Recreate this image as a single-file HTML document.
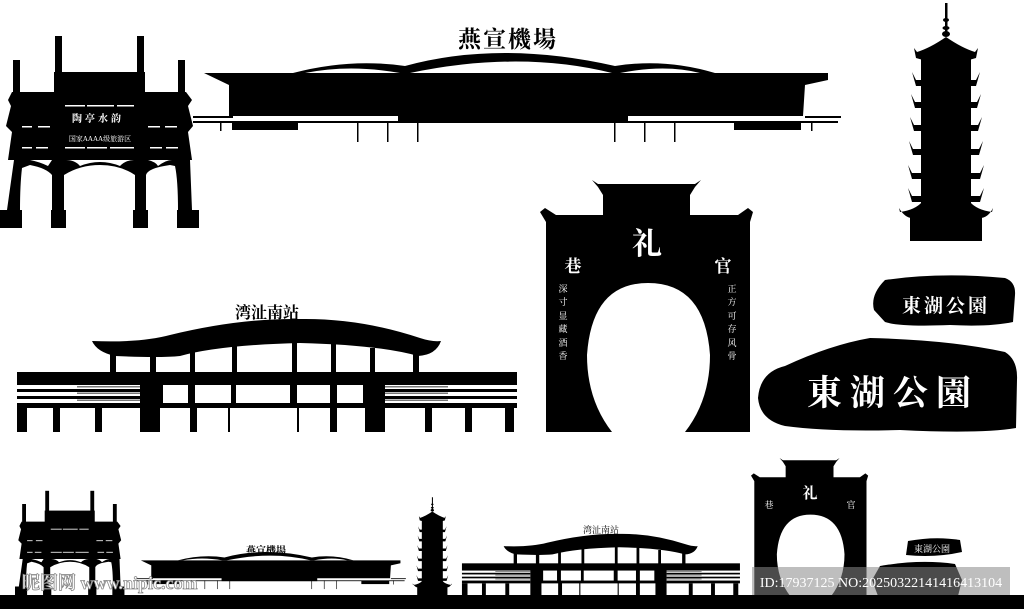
<!DOCTYPE html>
<html><head><meta charset="utf-8"><style>
html,body{margin:0;padding:0;background:#fff}
svg{display:block}
text{font-family:"Liberation Serif","Noto Serif CJK SC","Noto Sans CJK SC",serif}
</style></head><body>
<svg width="1024" height="609" viewBox="0 0 1024 609" xmlns="http://www.w3.org/2000/svg">
<defs>
<g id="gate">
 <rect x="13" y="60" width="7" height="40"/><rect x="178" y="60" width="7" height="40"/>
 <rect x="55" y="36" width="7" height="45"/><rect x="137" y="36" width="7" height="45"/>
 <rect x="54" y="72" width="91" height="22"/>
 <path d="M12,92 H186 L192,100 L188,106 L193,126 L188,132 L192,160 H8 L12,132 L6,126 L11,106 L8,100 Z"/>
 <path d="M14,160 H30 Q40,162 48,166 L52,160 H66 Q75,160 80,166 Q100,158 120,166 Q126,160 134,160 H148 Q156,162 158,166 Q166,160 172,160 H190 L192,210 H178 Q178,180 175,166 L170,165 Q148,168 146,175 L146,210 H135 L135,175 Q120,165 100,165 Q80,165 64,175 L64,210 H52 L52,175 Q46,168 30,165 L22,168 Q20,185 20,210 H7 Z"/>
 <rect x="0" y="210" width="22" height="18"/><rect x="51" y="210" width="15" height="18"/>
 <rect x="133" y="210" width="15" height="18"/><rect x="177" y="210" width="22" height="18"/>
</g>
<g id="gatew" fill="#fff">
 <rect x="65" y="105" width="20" height="1.5"/><rect x="87" y="105" width="27" height="1.5"/><rect x="117" y="105" width="17" height="1.5"/>
 <rect x="22" y="126" width="10" height="1.5"/><rect x="38" y="126" width="12" height="1.5"/><rect x="148" y="126" width="12" height="1.5"/><rect x="165" y="126" width="12" height="1.5"/>
 <rect x="22" y="147" width="10" height="1.5"/><rect x="36" y="147" width="12" height="1.5"/><rect x="65" y="147" width="20" height="1.5"/><rect x="87" y="147" width="20" height="1.5"/><rect x="110" y="147" width="24" height="1.5"/><rect x="150" y="147" width="12" height="1.5"/><rect x="166" y="147" width="12" height="1.5"/>
</g>
<g id="air">
 <path d="M293,73 Q350,58 405,66 Q500,40 615,66 Q665,58 715,73 L700,73 Q665,64 620,73 L612,73 Q520,50 410,73 L400,73 Q350,64 305,73 Z"/>
 <path d="M204,73 H828 V80 L805,85 L803,116 H628 V123 H398 V116 H229 L229,85 Z"/>
 <rect x="193" y="116" width="40" height="2"/><rect x="232" y="121" width="66" height="9"/>
 <rect x="193" y="121" width="645" height="2"/><rect x="734" y="122" width="67" height="8"/>
 <rect x="805" y="116" width="36" height="2"/>
 <rect x="220" y="121" width="1.5" height="10"/><rect x="357" y="121" width="1.5" height="21"/><rect x="387" y="121" width="1.5" height="21"/><rect x="417" y="121" width="1.5" height="21"/>
 <rect x="614" y="121" width="1.5" height="21"/><rect x="644" y="121" width="1.5" height="21"/><rect x="674" y="121" width="1.5" height="21"/><rect x="811" y="121" width="1.5" height="10"/>
</g>
<g id="pag">
 <rect x="945" y="3" width="2.5" height="32"/>
 <ellipse cx="946" cy="20" rx="3" ry="2"/><ellipse cx="946" cy="28" rx="3.5" ry="2"/><ellipse cx="946" cy="34" rx="4" ry="3"/>
 <path d="M946,37 Q930,48 917,52 L914,48 L916,58 L923,60 H969 L976,58 L978,48 L975,52 Q962,48 946,37 Z"/>
 <rect x="921" y="58" width="50" height="150"/>
 <path d="M916,80 L912,72 L916,86 H976 L980,72 L976,80 Z"/>
 <path d="M915,102 L911,94 L915,108 H977 L981,94 L977,102 Z"/>
 <path d="M914,125 L910,117 L914,131 H978 L982,117 L978,125 Z"/>
 <path d="M913,149 L909,141 L913,155 H979 L983,141 L979,149 Z"/>
 <path d="M912,173 L908,165 L912,179 H980 L984,165 L980,173 Z"/>
 <path d="M912,196 L908,188 L912,202 H980 L984,188 L980,196 Z"/>
 <path d="M922,202 Q915,210 900,212 L899,208 Q905,218 912,218 H980 Q988,218 993,208 L992,212 Q977,210 970,202 Z"/>
 <rect x="910" y="217" width="72" height="24"/>
</g>
<g id="arch">
 <path d="M598,187 L592,180 L598,184 H695 L701,180 L695,187 L690,195 V215 H738 L748,208 L753,212 L750,222 V432 H685 Q710,400 710,355 Q705,283 648,283 Q592,283 587,355 Q587,400 612,432 H546 V222 L540,212 L545,208 L556,215 H603 V195 Z"/>
</g>
<g id="stat">
 <path d="M92,341 Q140,343 170,335 Q240,318 300,319 Q360,318 420,338 Q432,342 441,341 Q436,355 418,356 Q380,345 300,343 Q220,345 180,356 Q160,358 115,356 Q97,352 92,341 Z"/>
 <rect x="110" y="350" width="6" height="24"/><rect x="150" y="350" width="6" height="24"/><rect x="190" y="348" width="5" height="26"/><rect x="232" y="343" width="5" height="31"/>
 <rect x="292" y="342" width="5" height="32"/><rect x="331" y="343" width="5" height="31"/><rect x="370" y="348" width="5" height="26"/><rect x="413" y="350" width="6" height="24"/>
 <rect x="17" y="372" width="500" height="13"/>
 <rect x="17" y="389" width="123" height="3"/><rect x="17" y="396" width="123" height="3"/><rect x="17" y="403" width="123" height="5"/>
 <rect x="385" y="389" width="132" height="3"/><rect x="385" y="396" width="132" height="3"/><rect x="385" y="403" width="132" height="5"/>
 <rect x="77" y="386" width="63" height="1.5" fill="#777"/><rect x="77" y="392.5" width="63" height="1.5" fill="#777"/><rect x="77" y="399.5" width="63" height="1.5" fill="#777"/>
 <rect x="385" y="386" width="63" height="1.5" fill="#777"/><rect x="385" y="392.5" width="63" height="1.5" fill="#777"/><rect x="385" y="399.5" width="63" height="1.5" fill="#777"/>
 <path d="M140,385 H385 V432 H365 V408 H160 V432 H140 Z"/>
 <rect x="17" y="408" width="10" height="24"/><rect x="53" y="408" width="7" height="24"/><rect x="95" y="408" width="7" height="24"/>
 <rect x="190" y="403" width="7" height="29"/><rect x="228" y="403" width="2" height="29"/><rect x="297" y="403" width="2" height="29"/><rect x="330" y="403" width="7" height="29"/>
 <rect x="425" y="408" width="7" height="24"/><rect x="465" y="408" width="7" height="24"/><rect x="505" y="408" width="9" height="24"/>
</g>
<g id="statw" fill="#fff">
 <rect x="163" y="385" width="25" height="18"/><rect x="195" y="385" width="36" height="18"/><rect x="236" y="385" width="54" height="18"/><rect x="297" y="385" width="33" height="18"/><rect x="337" y="385" width="26" height="18"/>
</g>
</defs>

<use href="#gate"/><use href="#gatew"/>
<text x="98" y="122" font-size="10" fill="#fff" text-anchor="middle" font-weight="bold" letter-spacing="3">陶亭水韵</text>
<text x="100" y="141" font-size="7" fill="#fff" text-anchor="middle">国家AAAA级旅游区</text>

<use href="#air"/>
<text x="508" y="47" font-size="23" font-weight="bold" text-anchor="middle" letter-spacing="2">燕宣機場</text>

<use href="#pag"/>

<use href="#arch"/>
<text x="647" y="254" font-size="30" fill="#fff" text-anchor="middle" font-weight="bold">礼</text>
<text x="573" y="272" font-size="17" fill="#fff" text-anchor="middle" font-weight="bold">巷</text>
<text x="723" y="272" font-size="17" fill="#fff" text-anchor="middle" font-weight="bold">官</text>
<g font-size="9" fill="#fff" text-anchor="middle">
<text x="563" y="292">深</text><text x="563" y="305">寸</text><text x="563" y="319">显</text><text x="563" y="332">藏</text><text x="563" y="346">酒</text><text x="563" y="359">香</text>
<text x="732" y="292">正</text><text x="732" y="305">方</text><text x="732" y="319">可</text><text x="732" y="332">存</text><text x="732" y="346">风</text><text x="732" y="359">骨</text>
</g>

<use href="#stat"/><use href="#statw"/>
<text x="267" y="318" font-size="16" font-weight="bold" text-anchor="middle">湾沚南站</text>

<path d="M885,280 Q940,272 1005,278 Q1016,282 1015,295 L1013,322 Q990,327 950,325 Q900,327 885,322 L874,310 Q870,295 885,280 Z"/>
<text x="946" y="312" font-size="19" fill="#fff" text-anchor="middle" font-weight="bold" letter-spacing="3">東湖公園</text>
<path d="M785,366 Q830,345 870,338 Q950,340 1005,352 Q1018,360 1017,380 L1016,428 Q980,434 900,430 Q830,432 785,426 Q760,420 758,398 Q760,372 785,366 Z"/>
<text x="893" y="405" font-size="35" fill="#fff" text-anchor="middle" font-weight="bold" letter-spacing="8">東湖公園</text>

<g transform="translate(15,471) scale(0.55)"><use href="#gate"/><use href="#gatew"/></g>
<g transform="translate(56,530) scale(0.416)"><use href="#air"/></g>
<text x="266" y="554" font-size="10" font-weight="bold" text-anchor="middle">燕宣機場</text>
<g transform="translate(35,496) scale(0.42)"><use href="#pag"/></g>
<g transform="translate(452.5,356.5) scale(0.556)"><use href="#stat"/><use href="#statw"/></g>
<text x="601" y="533" font-size="9" text-anchor="middle">湾沚南站</text>
<g transform="translate(454,359) scale(0.55)"><use href="#arch"/></g>
<text x="810" y="498" font-size="15" fill="#fff" text-anchor="middle" font-weight="bold">礼</text>
<text x="769" y="508" font-size="9" fill="#fff" text-anchor="middle">巷</text>
<text x="851" y="508" font-size="9" fill="#fff" text-anchor="middle">官</text>
<path d="M908,541 Q935,536 960,540 L962,552 Q935,558 906,555 Z"/>
<text x="932" y="552" font-size="9" fill="#fff" text-anchor="middle">東湖公園</text>
<path d="M880,566 Q920,559 955,564 L962,580 L958,596 H878 L872,580 Z"/>
<rect x="0" y="595" width="1024" height="14"/>

<rect x="752" y="567" width="258" height="28" fill="#888" fill-opacity="0.55"/>
<text x="881" y="587" font-size="14" fill="#fff" text-anchor="middle" font-family="Liberation Sans, sans-serif">ID:17937125 NO:20250322141416413104</text>
<text x="22" y="589" font-size="18" fill="#fff" stroke="#888" stroke-width="0.8" font-family="Liberation Sans, Noto Sans CJK SC, sans-serif" font-weight="bold">昵图网 www.nipic.com</text>
</svg>
</body></html>
